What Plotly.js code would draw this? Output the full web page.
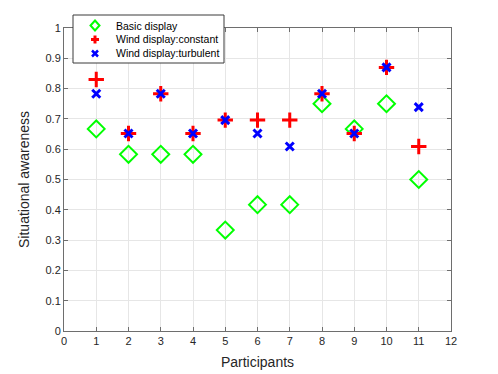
<!DOCTYPE html>
<html>
<head>
<meta charset="utf-8">
<script src="https://cdn.plot.ly/plotly-3.0.1.min.js"></script>
<style>
  html, body { margin: 0; padding: 0; background: #fff; }
  #chart { width: 498px; height: 374px; }
</style>
</head>
<body>
<div id="chart"></div>
<script>
// participants on the x axis
const participants = [1, 2, 3, 4, 5, 6, 7, 8, 9, 10, 11]

// situational awareness per display condition
const basicDisplay = [0.667, 0.583, 0.583, 0.583, 0.333, 0.417, 0.417, 0.75, 0.667, 0.75, 0.5]
const windConstant = [0.83, 0.652, 0.783, 0.652, 0.696, 0.696, 0.696, 0.783, 0.652, 0.87, 0.609]
const windTurbulent = [0.783, 0.652, 0.783, 0.652, 0.696, 0.652, 0.609, 0.783, 0.652, 0.87, 0.739]

const seriesNames = ["Basic display", "Wind display:constant", "Wind display:turbulent"]
const seriesColors = ["#00ff00", "#ff0000", "#0000ff"]

const xTicks = [0, 1, 2, 3, 4, 5, 6, 7, 8, 9, 10, 11, 12]
const yTicks = [0, 0.1, 0.2, 0.3, 0.4, 0.5, 0.6, 0.7, 0.8, 0.9, 1]

const traces = [
  {
    x: participants, y: basicDisplay, name: seriesNames[0],
    type: "scatter", mode: "markers",
    marker: { symbol: "diamond-open", size: 13, color: seriesColors[0], line: { width: 2, color: seriesColors[0] } },
  },
  {
    x: participants, y: windConstant, name: seriesNames[1],
    type: "scatter", mode: "markers",
    marker: { symbol: "cross-thin-open", size: 11, color: seriesColors[1], line: { width: 3, color: seriesColors[1] } },
  },
  {
    x: participants, y: windTurbulent, name: seriesNames[2],
    type: "scatter", mode: "markers",
    marker: { symbol: "x-thin-open", size: 8, color: seriesColors[2], line: { width: 3, color: seriesColors[2] } },
  },
]

// plot box in pixels, used to place the hand made legend (matlab style, compact)
const W = 498, H = 374
const M = { l: 64, r: 47, t: 28, b: 43 }
const plotW = W - M.l - M.r
const plotH = H - M.t - M.b
const px = (x) => (x - M.l) / plotW
const py = (y) => (H - M.b - y) / plotH

const legendBox = { x0: 73, x1: 224, y0: 15, y1: 63 }
const legendRows = [25.5, 39.5, 53.5]
const symX = 95
const textX = 114

const shapes = [
  {
    type: "rect", xref: "paper", yref: "paper",
    x0: px(legendBox.x0), x1: px(legendBox.x1), y0: py(legendBox.y1), y1: py(legendBox.y0),
    fillcolor: "#ffffff", line: { color: "#3a3a3a", width: 1 }, layer: "above",
  },
]

// legend symbols
const r0 = legendRows[0]
shapes.push({
  type: "path", xref: "paper", yref: "paper", layer: "above",
  path: `M ${px(symX)},${py(r0 - 5)} L ${px(symX + 4.5)},${py(r0)} L ${px(symX)},${py(r0 + 5)} L ${px(symX - 4.5)},${py(r0)} Z`,
  line: { color: seriesColors[0], width: 2 },
})
const r1 = legendRows[1]
shapes.push({ type: "line", xref: "paper", yref: "paper", layer: "above",
  x0: px(symX - 4), x1: px(symX + 4), y0: py(r1), y1: py(r1), line: { color: seriesColors[1], width: 3 } })
shapes.push({ type: "line", xref: "paper", yref: "paper", layer: "above",
  x0: px(symX), x1: px(symX), y0: py(r1 - 4), y1: py(r1 + 4), line: { color: seriesColors[1], width: 3 } })
const r2 = legendRows[2]
shapes.push({ type: "line", xref: "paper", yref: "paper", layer: "above",
  x0: px(symX - 3), x1: px(symX + 3), y0: py(r2 - 3), y1: py(r2 + 3), line: { color: seriesColors[2], width: 2.5 } })
shapes.push({ type: "line", xref: "paper", yref: "paper", layer: "above",
  x0: px(symX - 3), x1: px(symX + 3), y0: py(r2 + 3), y1: py(r2 - 3), line: { color: seriesColors[2], width: 2.5 } })

const annotations = seriesNames.map((name, i) => ({
  text: name, xref: "paper", yref: "paper",
  x: px(textX), y: py(legendRows[i]), xanchor: "left", yanchor: "middle",
  showarrow: false, font: { size: 10.5, color: "#000000" },
}))

const axisCommon = {
  showline: true,
  linecolor: "#6e6e6e",
  linewidth: 1,
  mirror: "ticks",
  ticks: "inside",
  ticklen: 4,
  tickcolor: "#6e6e6e",
  showgrid: true,
  gridcolor: "#e6e6e6",
  gridwidth: 1,
  zeroline: false,
  tickfont: { family: "Liberation Sans, Arial, sans-serif", size: 11, color: "#262626" },
}

const layout = {
  width: W,
  height: H,
  margin: M,
  paper_bgcolor: "#ffffff",
  plot_bgcolor: "#ffffff",
  font: { family: "Liberation Sans, Arial, sans-serif", color: "#262626" },
  xaxis: Object.assign({}, axisCommon, {
    range: [0, 12],
    tickvals: xTicks,
    ticktext: xTicks.map(String),
    title: { text: "Participants", font: { size: 14, color: "#262626" }, standoff: 10 },
  }),
  yaxis: Object.assign({}, axisCommon, {
    range: [0, 1],
    tickvals: yTicks,
    ticktext: yTicks.map(String),
    title: { text: "Situational awareness", font: { size: 14, color: "#262626" }, standoff: 12 },
  }),
  showlegend: false,
  shapes: shapes,
  annotations: annotations,
}

Plotly.newPlot("chart", traces, layout, { displayModeBar: false, staticPlot: true })
</script>
</body>
</html>
